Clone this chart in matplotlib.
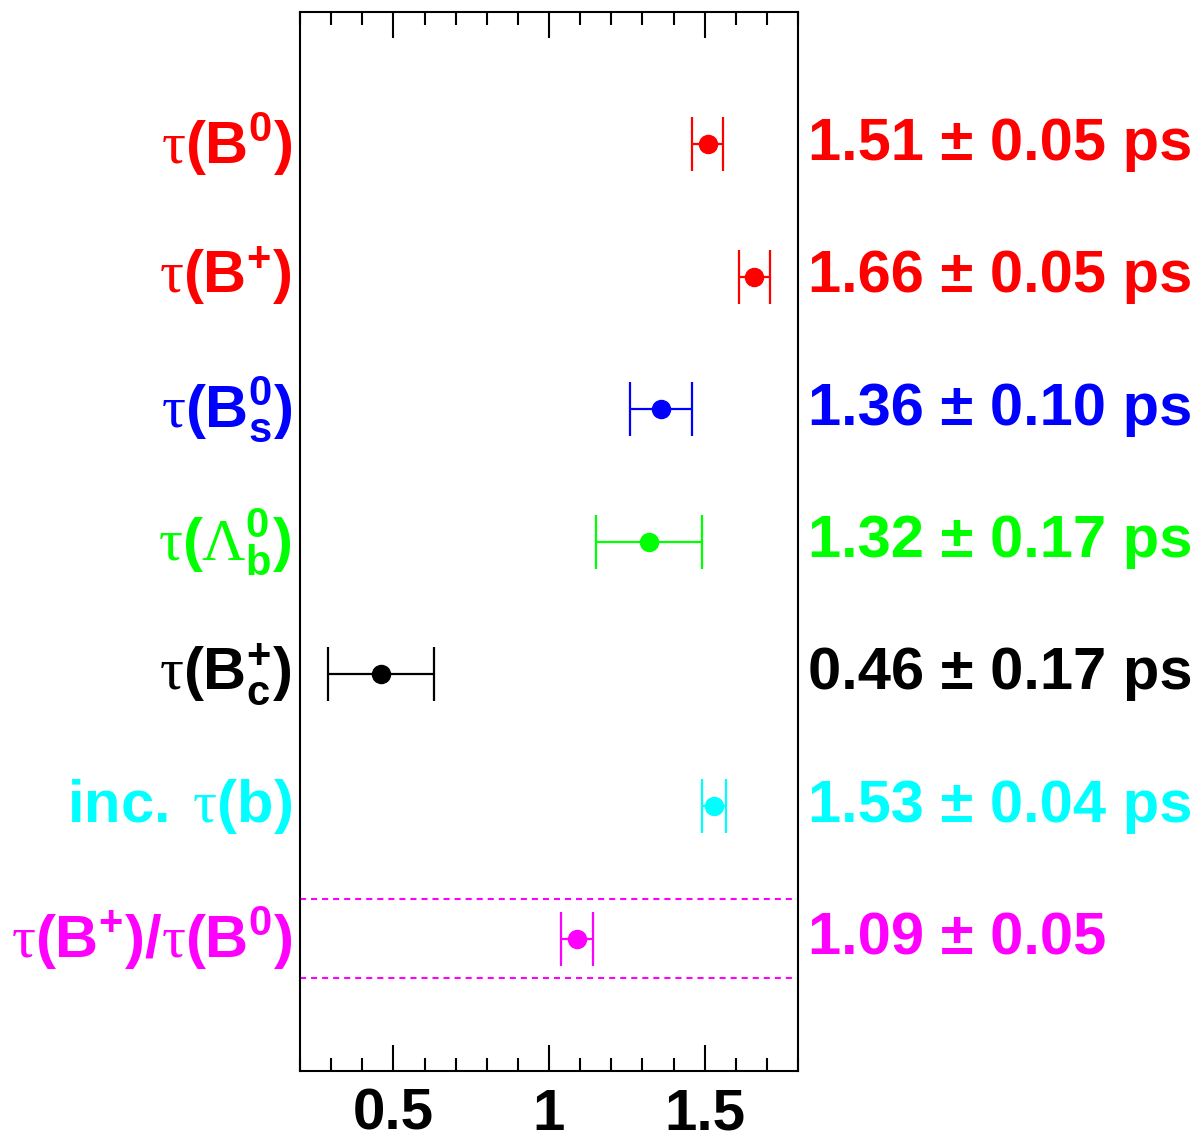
import matplotlib
matplotlib.use("Agg")
import matplotlib.pyplot as plt
from matplotlib.ticker import MultipleLocator

plt.rcParams['mathtext.fontset'] = 'custom'
plt.rcParams['mathtext.rm'] = 'Liberation Serif'
plt.rcParams['mathtext.it'] = 'Liberation Serif:italic'
plt.rcParams['mathtext.bf'] = 'Liberation Sans:bold'
plt.rcParams['font.family'] = ['Liberation Sans', 'DejaVu Sans']

# Data (top to bottom)
labels = [r'$\mathrm{\tau}\mathbf{(B^{0})}$',
          r'$\mathrm{\tau}\mathbf{(B^{+})}$',
          r'$\mathrm{\tau}\mathbf{(B_{s}^{0})}$',
          r'$\mathrm{\tau}\mathbf{(}\mathrm{\Lambda}\mathbf{_{b}^{0})}$',
          r'$\mathrm{\tau}\mathbf{(B_{c}^{+})}$',
          r'$\mathbf{inc.\ }\mathrm{\tau}\mathbf{(b)}$',
          r'$\mathrm{\tau}\mathbf{(B^{+})/}\mathrm{\tau}\mathbf{(B^{0})}$']
values = [1.51, 1.66, 1.36, 1.32, 0.46, 1.53, 1.09]
errors = [0.05, 0.05, 0.10, 0.17, 0.17, 0.04, 0.05]
units = [' ps', ' ps', ' ps', ' ps', ' ps', ' ps', '']
colors = ['#ff0000', '#ff0000', '#0000ff', '#00ff00', '#000000', '#00ffff', '#ff00ff']
rows = [7, 6, 5, 4, 3, 2, 1]
band = (0.7, 1.3)

fig = plt.figure(figsize=(11.99, 11.44), dpi=100)
ax = fig.add_axes([300/1199, 1 - 1071/1144, 498/1199, 1059/1144])

for y, v, e, c, lab, u in zip(rows, values, errors, colors, labels, units):
    ax.errorbar([v], [y], xerr=[e], fmt='o', color=c, ecolor=c,
                markersize=13, elinewidth=1.6, capsize=19.5, capthick=1.6)
    ax.text(-0.016, y, lab, transform=ax.get_yaxis_transform(),
            ha='right', va='center', color=c, fontsize=43)
    ax.text(1.02, y, f'{v:.2f} \u00b1 {e:.2f}{u}', transform=ax.get_yaxis_transform(),
            ha='left', va='center', color=c, fontsize=43, fontweight='bold')

for yb in band:
    ax.axhline(yb, color='#ff00ff', linewidth=1.5, linestyle=(0, (2.9, 2.4)))

ax.set_xlim(0.2, 1.8)
ax.set_ylim(0, 8)
ax.xaxis.set_major_locator(MultipleLocator(0.5))
ax.xaxis.set_minor_locator(MultipleLocator(0.1))
ax.set_xticks([0.5, 1.0, 1.5])
ax.set_xticklabels(['0.5', '1', '1.5'])
ax.tick_params(axis='x', which='both', direction='in', top=True, bottom=True, width=1.5)
ax.tick_params(axis='x', which='major', length=19, pad=12, labelsize=42)
ax.tick_params(axis='x', which='minor', length=9.5)
for t in ax.get_xticklabels():
    t.set_fontweight('bold')
ax.set_yticks([])
for s in ax.spines.values():
    s.set_linewidth(1.5)

fig.savefig('out.png', dpi=100)
